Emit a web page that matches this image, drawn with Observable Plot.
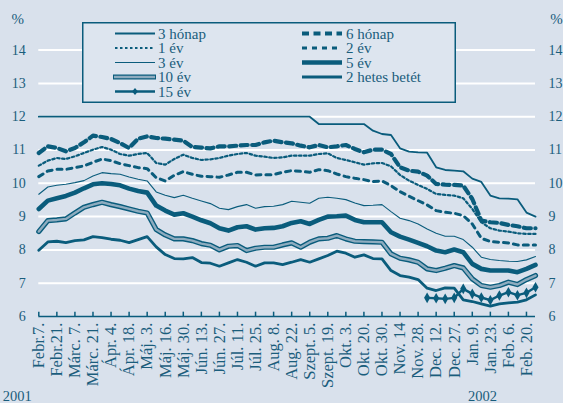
<!DOCTYPE html>
<html>
<head>
<meta charset="utf-8">
<script src="https://cdn.jsdelivr.net/npm/d3@7"></script>
<script src="https://cdn.jsdelivr.net/npm/@observablehq/plot@0.6"></script>
<style>
  html, body { margin: 0; padding: 0; background: #d9e1ec; }
  #wrap { position: relative; width: 563px; height: 403px; overflow: hidden; }
  #legend { position: absolute; left: 82px; top: 22px; }
</style>
</head>
<body>
<div id="wrap"></div>
<script>
// ---- data ----
const tickLabels = ["Febr.7.", "Febr.21.", "Márc. 7.", "Márc. 21.", "Ápr. 4.", "Ápr. 18.", "Máj. 3.", "Máj. 16.", "Máj. 30.", "Jún. 13.", "Jún. 27.", "Júl. 11.", "Júl. 25.", "Aug. 8.", "Aug. 22.", "Szept. 5.", "Szept. 19.", "Okt. 3.", "Okt. 20.", "Okt. 30.", "Nov. 14", "Nov. 28.", "Dec. 12.", "Dec. 27.", "Jan. 9.", "Jan. 23.", "Feb. 6.", "Feb. 20."];
const yTicks = [6, 7, 8, 9, 10, 11, 12, 13, 14];
const gridValues = [7, 8, 9, 10, 11, 12, 13, 14];
const years = ["2001", "2002"];

const honap3 = [12,12,12,12,12,12,12,12,12,12, 12,12,12,12,12,12,12,12,12,12, 12,12,12,12,12,12,12,12,12,12, 12,11.78,11.78,11.78,11.78,11.78,11.78,11.58,11.48,11.45, 11.05,10.95,10.93,10.92,10.48,10.40,10.38,10.36,10.14,10.04, 9.63,9.55,9.54,9.52,9.12,9.00];
const honap6 = [10.91,11.11,11.06,10.96,11.06,11.23,11.43,11.39,11.33,11.21, 11.06,11.34,11.41,11.36,11.34,11.31,11.28,11.09,11.07,11.05, 11.11,11.11,11.13,11.15,11.15,11.23,11.28,11.23,11.20,11.13, 11.08,11.15,11.08,11.11,11.15,11.03,10.93,11.01,11.01,10.88, 10.48,10.38,10.35,10.23,9.98,9.96,9.95,9.93,9.53,8.88, 8.83,8.81,8.75,8.71,8.65,8.65];
const ev1 = [10.53,10.68,10.76,10.73,10.81,10.91,11.01,11.09,11.01,10.88, 10.83,10.88,10.91,10.61,10.56,10.73,10.86,10.76,10.70,10.72, 10.76,10.83,10.88,10.91,10.83,10.80,10.76,10.78,10.83,10.83, 10.83,10.88,10.90,10.76,10.70,10.63,10.56,10.60,10.61,10.51, 10.25,10.08,9.95,9.83,9.68,9.65,9.63,9.55,9.23,8.83, 8.65,8.58,8.55,8.50,8.48,8.48];
const ev2 = [10.20,10.37,10.42,10.42,10.47,10.52,10.63,10.73,10.68,10.59, 10.53,10.47,10.44,10.17,10.07,10.24,10.35,10.27,10.21,10.20, 10.18,10.25,10.33,10.33,10.25,10.26,10.26,10.33,10.38,10.36, 10.33,10.41,10.38,10.28,10.20,10.15,10.11,10.05,10.07,9.93, 9.75,9.61,9.48,9.35,9.18,9.13,9.10,9.03,8.78,8.35, 8.25,8.23,8.21,8.15,8.15,8.15];
const ev3 = [9.67,9.89,9.94,9.97,10.02,10.08,10.22,10.32,10.29,10.27, 10.19,10.12,10.07,9.74,9.64,9.57,9.64,9.55,9.47,9.39, 9.25,9.21,9.30,9.36,9.25,9.30,9.31,9.36,9.46,9.43, 9.40,9.55,9.58,9.55,9.51,9.41,9.33,9.34,9.36,9.15, 8.95,8.88,8.78,8.63,8.50,8.41,8.41,8.31,8.08,7.78, 7.71,7.68,7.66,7.65,7.70,7.80];
const ev5 = [9.23,9.48,9.55,9.62,9.72,9.85,9.97,10.00,9.98,9.94, 9.84,9.77,9.72,9.33,9.18,9.06,9.10,9.00,8.89,8.80, 8.65,8.58,8.68,8.71,8.61,8.65,8.66,8.71,8.81,8.86, 8.78,8.90,9.00,9.01,9.03,8.90,8.83,8.83,8.83,8.53, 8.40,8.31,8.21,8.11,7.98,7.93,8.01,7.93,7.58,7.43, 7.38,7.38,7.38,7.33,7.43,7.55];
const ev10 = [8.55,8.88,8.90,8.93,9.11,9.28,9.36,9.43,9.36,9.30, 9.23,9.16,9.11,8.61,8.45,8.33,8.33,8.28,8.19,8.14, 8.00,8.11,8.13,7.98,8.05,8.08,8.08,8.15,8.21,8.08, 8.23,8.33,8.35,8.43,8.33,8.26,8.25,8.24,8.23,7.88, 7.75,7.70,7.63,7.43,7.38,7.45,7.53,7.46,7.13,6.93, 6.88,6.93,7.03,6.96,7.11,7.23];
const hetes2 = [7.99,8.24,8.26,8.22,8.28,8.30,8.40,8.37,8.32,8.29, 8.22,8.31,8.40,8.09,7.86,7.74,7.73,7.77,7.62,7.60, 7.51,7.61,7.71,7.63,7.51,7.61,7.61,7.56,7.63,7.71, 7.63,7.73,7.83,7.96,7.90,7.78,7.85,7.74,7.73,7.38, 7.23,7.18,7.11,6.85,6.78,6.86,6.85,6.50,6.45,6.38, 6.31,6.38,6.41,6.43,6.50,6.65];
const ev15Start = 43;
const ev15 = [6.56,6.55,6.53,6.56,6.83,6.68,6.57,6.49,6.63,6.73,6.64,6.71,6.88];

// ---- styles ----
const ink = "#0a5c7c";
const textInk = "#1a5d7c";
const inner10 = "#8eacbf";
const font = "'Liberation Serif', 'Times New Roman', serif";

const idx = d3.range(honap3.length);
const tickIdx = tickLabels.map((_, k) => k * 2);
const ev15Data = ev15.map((v, k) => ({i: ev15Start + k, v}));

function series(arr) { return idx.map(i => ({i, v: arr[i]})); }

const styles = {
  honap3: {stroke: ink, strokeWidth: 1.8},
  honap6: {stroke: ink, strokeWidth: 4.2, strokeDasharray: "7,4.5"},
  ev1: {stroke: ink, strokeWidth: 2.2, strokeDasharray: "2.5,2.5"},
  ev2: {stroke: ink, strokeWidth: 3, strokeDasharray: "5,5"},
  ev3: {stroke: ink, strokeWidth: 1.1},
  ev5: {stroke: ink, strokeWidth: 4.6},
  hetes2: {stroke: ink, strokeWidth: 2.8},
  ev15: {stroke: ink, strokeWidth: 2.4}
};

const lineOpts = s => ({x: "i", y: "v", curve: "linear", strokeLinejoin: "round", ...s});
const txt = {lineAnchor: "middle", textAnchor: "middle", fill: textInk};

const chart = Plot.plot({
  width: 563, height: 403,
  marginLeft: 38.3, marginRight: 28, marginTop: 49.6, marginBottom: 87,
  x: {domain: [0, 55], axis: null},
  y: {domain: [6, 14], axis: null},
  style: {background: "transparent", fontFamily: font, fontSize: "15px", color: textInk},
  marks: [
    Plot.ruleY(gridValues, {stroke: "#ffffff", strokeWidth: 2}),
    Plot.ruleY([6], {stroke: ink, strokeWidth: 1.5}),
    Plot.ruleX(tickIdx, {y1: 6, y2: 6.13, stroke: ink, strokeWidth: 1.5}),
    Plot.axisY({anchor: "left", ticks: yTicks, tickSize: 0, tickPadding: 13, label: null, fontSize: 14, fill: textInk}),
    Plot.axisY({anchor: "right", ticks: yTicks, tickSize: 0, tickPadding: 13, label: null, fontSize: 14, fill: textInk}),
    Plot.axisX({ticks: tickIdx, tickFormat: d => tickLabels[d / 2], tickRotate: -90, tickSize: 0, tickPadding: 6, label: null, fontSize: 16.5, fill: textInk}),
    Plot.text(["%"], {frameAnchor: "top-left", dx: -21, dy: -30.6, fontSize: 15, ...txt}),
    Plot.text(["%"], {frameAnchor: "top-right", dx: 21, dy: -30.6, fontSize: 15, ...txt}),
    Plot.text([years[0]], {frameAnchor: "bottom-left", dx: -21.5, dy: 79.5, fontSize: 14.5, ...txt}),
    Plot.text([years[1]], {frameAnchor: "bottom-left", dx: 443.7, dy: 79.5, fontSize: 14.5, ...txt}),
    Plot.line(series(honap3), lineOpts(styles.honap3)),
    Plot.line(series(ev3), lineOpts(styles.ev3)),
    Plot.line(series(ev2), lineOpts(styles.ev2)),
    Plot.line(series(ev1), lineOpts(styles.ev1)),
    Plot.line(series(honap6), lineOpts(styles.honap6)),
    Plot.line(series(ev5), lineOpts(styles.ev5)),
    Plot.line(series(ev10), lineOpts({stroke: ink, strokeWidth: 5.2})),
    Plot.line(series(ev10), lineOpts({stroke: inner10, strokeWidth: 2.4})),
    Plot.line(series(hetes2), lineOpts(styles.hetes2)),
    Plot.line(ev15Data, lineOpts(styles.ev15)),
    Plot.dot(ev15Data, {x: "i", y: "v", symbol: "diamond", r: 3.2, fill: ink, stroke: null})
  ]
});

const wrap = document.getElementById("wrap");
wrap.appendChild(chart);

// ---- legend ----
const legendItems = [
  {name: "3 hónap", key: "honap3", col: 0, row: 0},
  {name: "1 év", key: "ev1", col: 0, row: 1},
  {name: "3 év", key: "ev3", col: 0, row: 2},
  {name: "10 év", key: "ev10", col: 0, row: 3},
  {name: "15 év", key: "ev15", col: 0, row: 4},
  {name: "6 hónap", key: "honap6", col: 1, row: 0},
  {name: "2 év", key: "ev2", col: 1, row: 1},
  {name: "5 év", key: "ev5", col: 1, row: 2},
  {name: "2 hetes betét", key: "hetes2", col: 1, row: 3}
];
const LW = 374, LH = 81;
const lsvg = d3.select(wrap).append("svg").attr("id", "legend")
  .attr("width", LW).attr("height", LH);
lsvg.append("rect").attr("x", 0.75).attr("y", 0.75).attr("width", LW - 1.5).attr("height", LH - 1.5)
  .attr("fill", "#dde5ef").attr("stroke", ink).attr("stroke-width", 1.5);
const colX = [[33, 73, 76], [220, 260, 264]];
const rowY = [11.5, 26, 40.5, 55, 69.5];
legendItems.forEach(it => {
  const [x1, x2, tx] = colX[it.col];
  const y = rowY[it.row];
  const g = lsvg.append("g");
  if (it.key === "ev10") {
    g.append("line").attr("x1", x1 - 2).attr("x2", x2 + 1).attr("y1", y).attr("y2", y).attr("stroke", ink).attr("stroke-width", 5.2);
    g.append("line").attr("x1", x1 - 1).attr("x2", x2).attr("y1", y).attr("y2", y).attr("stroke", inner10).attr("stroke-width", 2.4);
  } else {
    const s = styles[it.key];
    const ln = g.append("line").attr("x1", x1).attr("x2", x2).attr("y1", y).attr("y2", y)
      .attr("stroke", s.stroke).attr("stroke-width", s.strokeWidth);
    if (s.strokeDasharray) ln.attr("stroke-dasharray", s.strokeDasharray);
    if (it.key === "ev15") {
      const m = (x1 + x2) / 2;
      g.append("path").attr("d", `M${m},${y - 3.5}L${m + 3},${y}L${m},${y + 3.5}L${m - 3},${y}Z`).attr("fill", ink);
    }
  }
  g.append("text").attr("x", tx).attr("y", y).attr("dy", "0.35em")
    .attr("font-family", font).attr("font-size", 15).attr("fill", textInk).text(it.name);
});
</script>
</body>
</html>
